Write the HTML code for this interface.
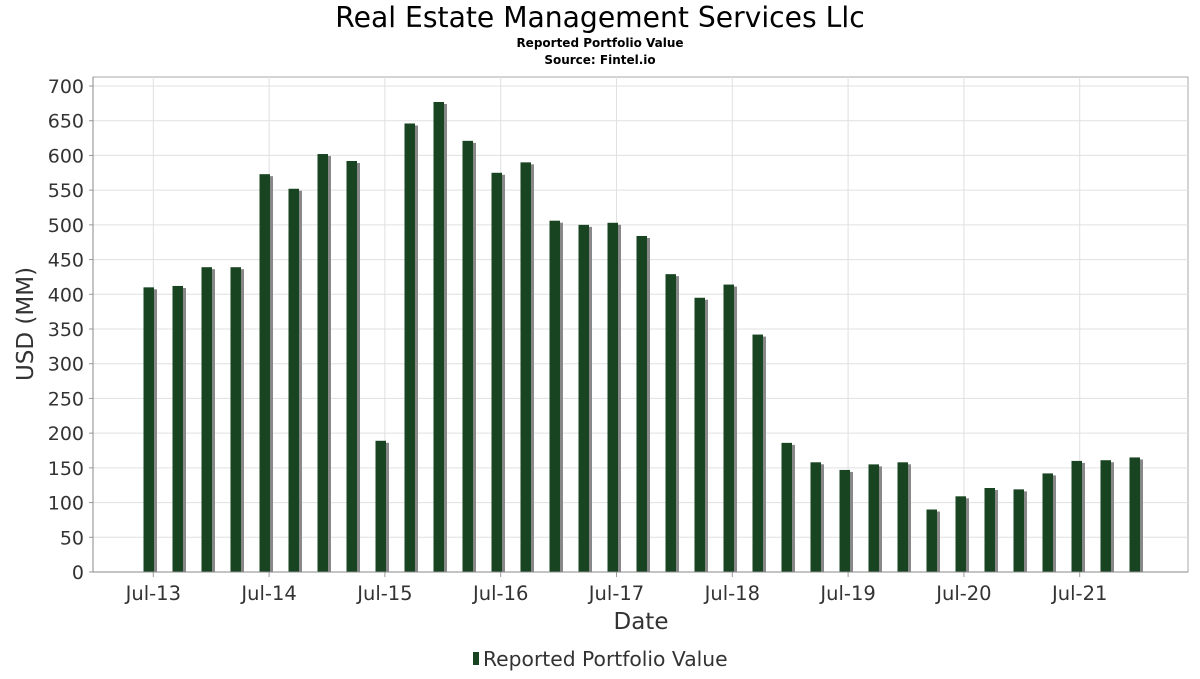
<!DOCTYPE html>
<html><head><meta charset="utf-8"><style>
body{margin:0;background:#fff;font-family:"DejaVu Sans","Liberation Sans",sans-serif;}
</style></head><body>
<svg id="c" width="1200" height="675" xmlns="http://www.w3.org/2000/svg">
<text x="600" y="27" text-anchor="middle" font-size="28.2" fill="#000">Real Estate Management Services Llc</text>
<text x="600" y="47" text-anchor="middle" font-size="12" font-weight="bold" fill="#000">Reported Portfolio Value</text>
<text x="600" y="64" text-anchor="middle" font-size="12" font-weight="bold" fill="#000">Source: Fintel.io</text>
<g id="grid"></g><g id="bars"></g><g id="axes"></g>
<text x="641" y="629" text-anchor="middle" font-size="23" fill="#333">Date</text>
<text transform="translate(33,324) rotate(-90)" text-anchor="middle" font-size="23" fill="#333">USD (MM)</text>
<g>
<rect x="473" y="652" width="6" height="13" fill="#184421"></rect>
<text x="483" y="666" font-size="20.3" fill="#333">Reported Portfolio Value</text>
</g>
</svg>
<script>
const values=[410,412,439,439,573,552,602,592,189,646,677,621,575,590,506,500,503,484,429,395,414,342,186,158,147,155,158,90,109,121,119,142,160,161,165];
const yTicks=[0,50,100,150,200,250,300,350,400,450,500,550,600,650,700];
const xLabels=["Jul-13","Jul-14","Jul-15","Jul-16","Jul-17","Jul-18","Jul-19","Jul-20","Jul-21"];
const ns="http://www.w3.org/2000/svg";
const L=93,R=1188,T=77,B=572;
const y=v=>B-v*(486/700);
const xb=i=>143.5+i*29.0;
const xl=k=>153.3+k*115.8;
function mk(t,a,p){const e=document.createElementNS(ns,t);for(const k in a)e.setAttribute(k,a[k]);p.appendChild(e);return e;}
const g=document.getElementById('grid'),b=document.getElementById('bars'),ax=document.getElementById('axes');
mk('rect',{x:L,y:T,width:R-L,height:B-T,fill:'#fff',stroke:'#aaa'},g);
yTicks.forEach(v=>{
 const ln=mk('line',{x1:L,x2:R,y1:y(v),y2:y(v),stroke:'#e0e0e0'},g);
 
 
 mk('line',{x1:L-4,x2:L,y1:y(v),y2:y(v),stroke:'#999'},ax);
 const t=mk('text',{x:L-9,y:y(v)+7,'text-anchor':'end','font-size':19,fill:'#333'},ax);
 t.textContent=v;
 
 
});
xLabels.forEach((s,k)=>{
 const ln=mk('line',{x1:xl(k),x2:xl(k),y1:T,y2:B,stroke:'#e0e0e0'},g);
 
 
 mk('line',{x1:xl(k),x2:xl(k),y1:B,y2:B+5,stroke:'#999'},ax);
 const t=mk('text',{x:xl(k),y:B+28,'text-anchor':'middle','font-size':19.5,fill:'#333'},ax);
 t.textContent=s;
 
 
});
values.forEach((v,i)=>{
 const sh=mk('rect',{x:xb(i)+3,y:y(v)+2,width:10.5,height:B-y(v)-2,fill:'#888'},b);
 
 
 const r=mk('rect',{x:xb(i),y:y(v),width:10.5,height:B-y(v),fill:'#184421'},b);
 
 
});
mk('line',{x1:L,x2:R,y1:B,y2:B,stroke:'#888'},ax);
mk('line',{x1:L,x2:L,y1:T,y2:B,stroke:'#888'},ax);
</script>
</body></html>
